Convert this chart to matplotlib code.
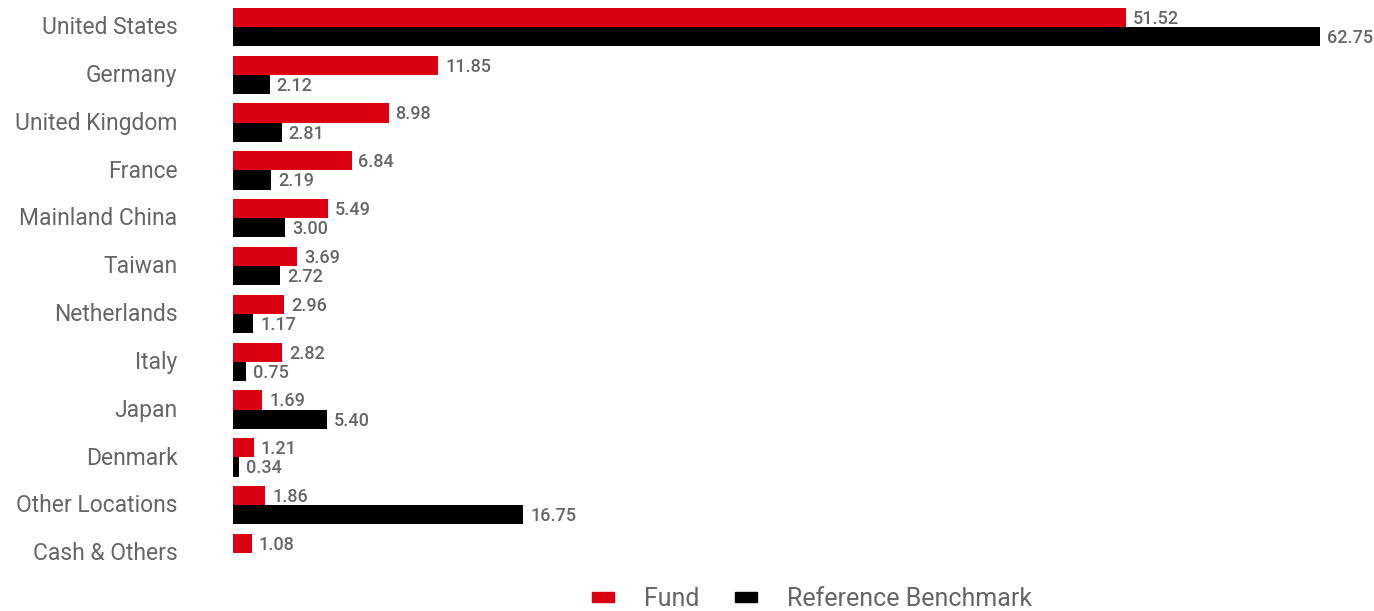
import matplotlib
matplotlib.use("Agg")
import matplotlib.pyplot as plt
from matplotlib.patches import Patch

categories = ["United States", "Germany", "United Kingdom", "France", "Mainland China",
              "Taiwan", "Netherlands", "Italy", "Japan", "Denmark", "Other Locations",
              "Cash & Others"]
fund = [51.52, 11.85, 8.98, 6.84, 5.49, 3.69, 2.96, 2.82, 1.69, 1.21, 1.86, 1.08]
benchmark = [62.75, 2.12, 2.81, 2.19, 3.00, 2.72, 1.17, 0.75, 5.40, 0.34, 16.75, None]

RED = "#DB0011"
BLACK = "#000000"
GREY = "#666666"
plt.rcParams['font.family'] = ['Roboto', 'DejaVu Sans']

fig = plt.figure(figsize=(13.74, 6.11), dpi=100)
W, H = 1374, 611
ax_left, ax_right = 233, 233 + 64 * 17.33
ax_top, ax_bottom = 3, 577
ax = fig.add_axes([ax_left / W, 1 - ax_bottom / H, (ax_right - ax_left) / W, (ax_bottom - ax_top) / H])

n = len(categories)
ys = list(range(n))
h = 0.4
for i, (f, b) in enumerate(zip(fund, benchmark)):
    ax.barh(i - h / 2, f, height=h, color=RED)
    ax.text(f + 0.4, i - h / 2 + 0.03, f"{f:.2f}", va="center", ha="left",
            fontsize=13, color=GREY, fontweight="medium")
    if b is not None:
        ax.barh(i + h / 2, b, height=h, color=BLACK)
        ax.text(b + 0.4, i + h / 2 + 0.03, f"{b:.2f}", va="center", ha="left",
                fontsize=13, color=GREY, fontweight="medium")

ax.set_xlim(0, 64)
ax.set_ylim(n - 0.5, -0.5)
ax.set_yticks([y - 0.04 for y in ys])
ax.set_yticklabels(categories, fontsize=16.5, color=GREY)
ax.tick_params(axis="y", length=0, pad=40)
ax.set_xticks([])
for s in ax.spines.values():
    s.set_visible(False)

handles = [Patch(color=RED, label="Fund"), Patch(color=BLACK, label="Reference Benchmark")]
leg = fig.legend(handles=handles, loc="center", bbox_to_anchor=(812 / W, 1 - 599 / H),
                 ncol=2, frameon=False, fontsize=18, handlelength=0.88, handleheight=0.28,
                 handletextpad=1.2, columnspacing=1.4, labelcolor=GREY)

fig.savefig("out.png", dpi=100)
